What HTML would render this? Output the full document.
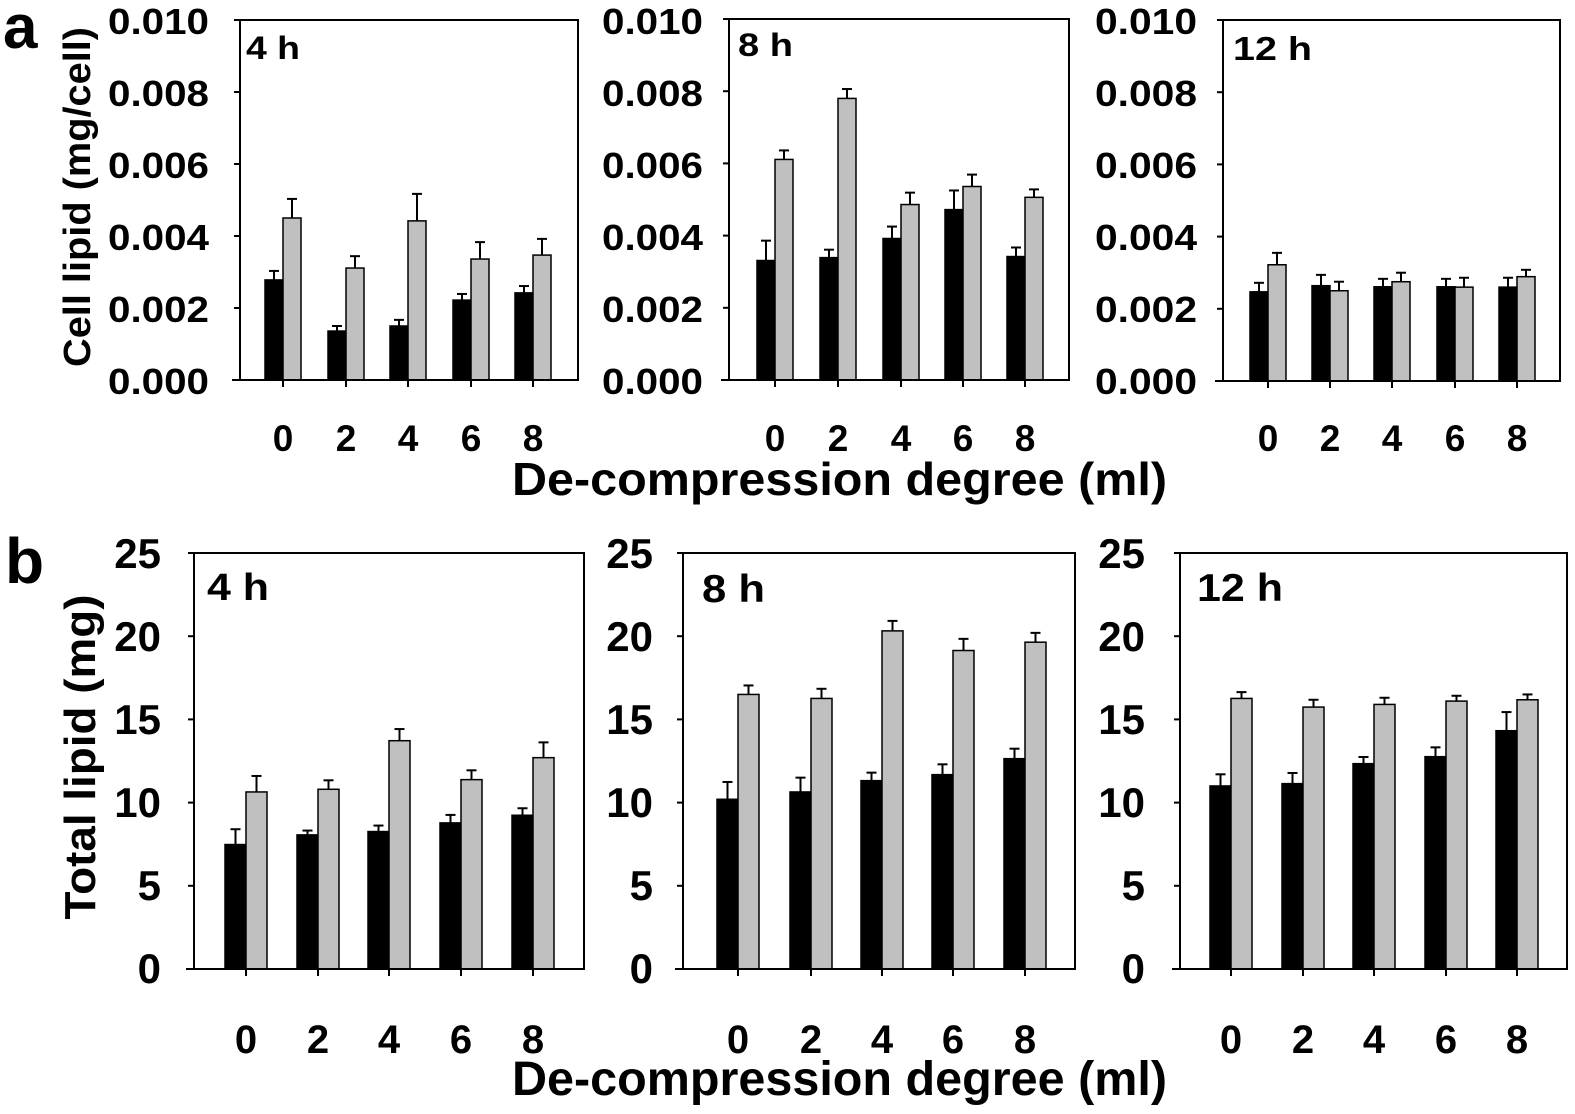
<!DOCTYPE html>
<html><head><meta charset="utf-8"><style>
html,body{margin:0;padding:0;background:#fff;}
svg{display:block;}
text{font-family:"Liberation Sans",Arial,sans-serif;font-weight:bold;fill:#000;}
</style></head><body>
<svg id="s" width="1575" height="1114" viewBox="0 0 1575 1114" xmlns="http://www.w3.org/2000/svg">
<rect width="1575" height="1114" fill="#fff"/>
<g id="bars"></g>
<text x="3" y="48" font-size="62">a</text>
<text x="5" y="583" font-size="64">b</text>
<text transform="translate(90,197) rotate(-90)" font-size="38" text-anchor="middle" textLength="340" lengthAdjust="spacingAndGlyphs">Cell lipid (mg/cell)</text>
<text transform="translate(95,757) rotate(-90)" font-size="44" text-anchor="middle" textLength="325" lengthAdjust="spacingAndGlyphs">Total lipid (mg)</text>
<g font-size="36">
<text x="108" y="34" textLength="101" lengthAdjust="spacingAndGlyphs">0.010</text><text x="108" y="106" textLength="101" lengthAdjust="spacingAndGlyphs">0.008</text><text x="108" y="178" textLength="101" lengthAdjust="spacingAndGlyphs">0.006</text><text x="108" y="250" textLength="101" lengthAdjust="spacingAndGlyphs">0.004</text><text x="108" y="322" textLength="101" lengthAdjust="spacingAndGlyphs">0.002</text><text x="108" y="394" textLength="101" lengthAdjust="spacingAndGlyphs">0.000</text>
<text x="602" y="34" textLength="101" lengthAdjust="spacingAndGlyphs">0.010</text><text x="602" y="106" textLength="101" lengthAdjust="spacingAndGlyphs">0.008</text><text x="602" y="178" textLength="101" lengthAdjust="spacingAndGlyphs">0.006</text><text x="602" y="250" textLength="101" lengthAdjust="spacingAndGlyphs">0.004</text><text x="602" y="322" textLength="101" lengthAdjust="spacingAndGlyphs">0.002</text><text x="602" y="394" textLength="101" lengthAdjust="spacingAndGlyphs">0.000</text>
<text x="1095" y="34" textLength="102" lengthAdjust="spacingAndGlyphs">0.010</text><text x="1095" y="106" textLength="102" lengthAdjust="spacingAndGlyphs">0.008</text><text x="1095" y="178" textLength="102" lengthAdjust="spacingAndGlyphs">0.006</text><text x="1095" y="250" textLength="102" lengthAdjust="spacingAndGlyphs">0.004</text><text x="1095" y="322" textLength="102" lengthAdjust="spacingAndGlyphs">0.002</text><text x="1095" y="394" textLength="102" lengthAdjust="spacingAndGlyphs">0.000</text>
</g>
<g font-size="42" text-anchor="end">
<text x="161" y="568">25</text><text x="161" y="651">20</text><text x="161" y="734">15</text><text x="161" y="817">10</text><text x="161" y="900">5</text><text x="161" y="983">0</text>
<text x="653" y="568">25</text><text x="653" y="651">20</text><text x="653" y="734">15</text><text x="653" y="817">10</text><text x="653" y="900">5</text><text x="653" y="983">0</text>
<text x="1145" y="568">25</text><text x="1145" y="651">20</text><text x="1145" y="734">15</text><text x="1145" y="817">10</text><text x="1145" y="900">5</text><text x="1145" y="983">0</text>
</g>
<g font-size="37" text-anchor="middle">
<text x="283" y="451">0</text><text x="346" y="451">2</text><text x="408" y="451">4</text><text x="471" y="451">6</text><text x="533" y="451">8</text>
<text x="775" y="451">0</text><text x="838" y="451">2</text><text x="901" y="451">4</text><text x="963" y="451">6</text><text x="1025" y="451">8</text>
<text x="1268" y="451">0</text><text x="1330" y="451">2</text><text x="1392" y="451">4</text><text x="1455" y="451">6</text><text x="1517" y="451">8</text>
</g>
<g font-size="40" text-anchor="middle">
<text x="246" y="1053">0</text><text x="318" y="1053">2</text><text x="389" y="1053">4</text><text x="461" y="1053">6</text><text x="533" y="1053">8</text>
<text x="738" y="1053">0</text><text x="811" y="1053">2</text><text x="882" y="1053">4</text><text x="953" y="1053">6</text><text x="1025" y="1053">8</text>
<text x="1231" y="1053">0</text><text x="1303" y="1053">2</text><text x="1374" y="1053">4</text><text x="1446" y="1053">6</text><text x="1517" y="1053">8</text>
</g>
<text x="512" y="495" font-size="46" textLength="655" lengthAdjust="spacingAndGlyphs">De-compression degree (ml)</text>
<text x="512" y="1095" font-size="48" textLength="655" lengthAdjust="spacingAndGlyphs">De-compression degree (ml)</text>
<text x="246" y="59" font-size="32" textLength="54" lengthAdjust="spacingAndGlyphs">4 h</text>
<text x="738" y="56" font-size="32" textLength="55" lengthAdjust="spacingAndGlyphs">8 h</text>
<text x="1233" y="60" font-size="33" textLength="79" lengthAdjust="spacingAndGlyphs">12 h</text>
<text x="207" y="600" font-size="38" textLength="62" lengthAdjust="spacingAndGlyphs">4 h</text>
<text x="702" y="602" font-size="39" textLength="63" lengthAdjust="spacingAndGlyphs">8 h</text>
<text x="1197" y="601" font-size="39" textLength="86" lengthAdjust="spacingAndGlyphs">12 h</text>
</svg>
<script>
var NS="http://www.w3.org/2000/svg",g=document.getElementById("bars");
function el(t,a){var e=document.createElementNS(NS,t);for(var k in a)e.setAttribute(k,a[k]);g.appendChild(e);return e;}
var panels=[
{x0:240,x1:578,top:20,y0:380,max:10,step:2,ticks:[283,346,408,471,533],w:18,
 d:[[2.78,3.03,4.5,5.03],[1.36,1.5,3.11,3.44],[1.5,1.67,4.42,5.17],[2.22,2.39,3.36,3.83],[2.42,2.61,3.47,3.92]]},
{x0:729,x1:1069,top:19,y0:380,max:10,step:2,ticks:[775,838,901,963,1025],w:18,
 d:[[3.31,3.86,6.11,6.36],[3.39,3.61,7.8,8.06],[3.92,4.25,4.86,5.19],[4.72,5.25,5.36,5.69],[3.42,3.67,5.06,5.28]]},
{x0:1223,x1:1560,top:20,y0:381,max:10,step:2,ticks:[1268,1330,1392,1455,1517],w:18,
 d:[[2.47,2.72,3.22,3.55],[2.64,2.94,2.5,2.75],[2.61,2.83,2.75,3.0],[2.61,2.83,2.6,2.86],[2.6,2.86,2.89,3.08]]},
{x0:194,x1:584,top:553,y0:969,max:25,step:5,ticks:[246,318,389,461,533],w:21,
 d:[[7.48,8.4,10.64,11.6],[8.06,8.32,10.8,11.34],[8.26,8.62,13.72,14.42],[8.78,9.26,11.38,11.94],[9.24,9.66,12.7,13.62]]},
{x0:683,x1:1075,top:553,y0:969,max:25,step:5,ticks:[738,811,882,953,1025],w:21,
 d:[[10.2,11.24,16.5,17.04],[10.64,11.5,16.26,16.84],[11.32,11.8,20.32,20.92],[11.68,12.3,19.14,19.84],[12.64,13.24,19.64,20.2]]},
{x0:1180,x1:1567,top:553,y0:969,max:25,step:5,ticks:[1231,1303,1374,1446,1517],w:21,
 d:[[11.0,11.7,16.26,16.64],[11.14,11.78,15.74,16.18],[12.34,12.74,15.9,16.3],[12.76,13.32,16.1,16.42],[14.32,15.44,16.18,16.5]]}
];
panels.forEach(function(p){
 var s=(p.y0-p.top)/p.max;
 function Y(v){return p.y0-v*s;}
 p.ticks.forEach(function(t,i){
  var d=p.d[i],w=p.w;
  [[t-w/2,d[0],d[1]],[t+w/2,d[2],d[3]]].forEach(function(e){
   el("line",{x1:e[0],x2:e[0],y1:Y(e[1]),y2:Y(e[2]),stroke:"#000","stroke-width":2});
   el("line",{x1:e[0]-5,x2:e[0]+5,y1:Y(e[2]),y2:Y(e[2]),stroke:"#000","stroke-width":2});
  });
  el("rect",{x:t-w,y:Y(d[0]),width:w,height:d[0]*s,fill:"#000",stroke:"#000","stroke-width":1.5});
  el("rect",{x:t,y:Y(d[2]),width:w,height:d[2]*s,fill:"#c0c0c0",stroke:"#000","stroke-width":1.5});
  el("line",{x1:t,x2:t,y1:p.y0,y2:p.y0+7,stroke:"#000","stroke-width":2});
 });
 el("rect",{x:p.x0,y:p.top,width:p.x1-p.x0,height:p.y0-p.top,fill:"none",stroke:"#000","stroke-width":2});
 el("line",{x1:p.x0-8,x2:p.x0,y1:p.y0,y2:p.y0,stroke:"#000","stroke-width":2});
 for(var v=0;v<=p.max;v+=p.step){el("line",{x1:p.x0-6,x2:p.x0,y1:Y(v),y2:Y(v),stroke:"#000","stroke-width":2});}
});
</script>
</body></html>
